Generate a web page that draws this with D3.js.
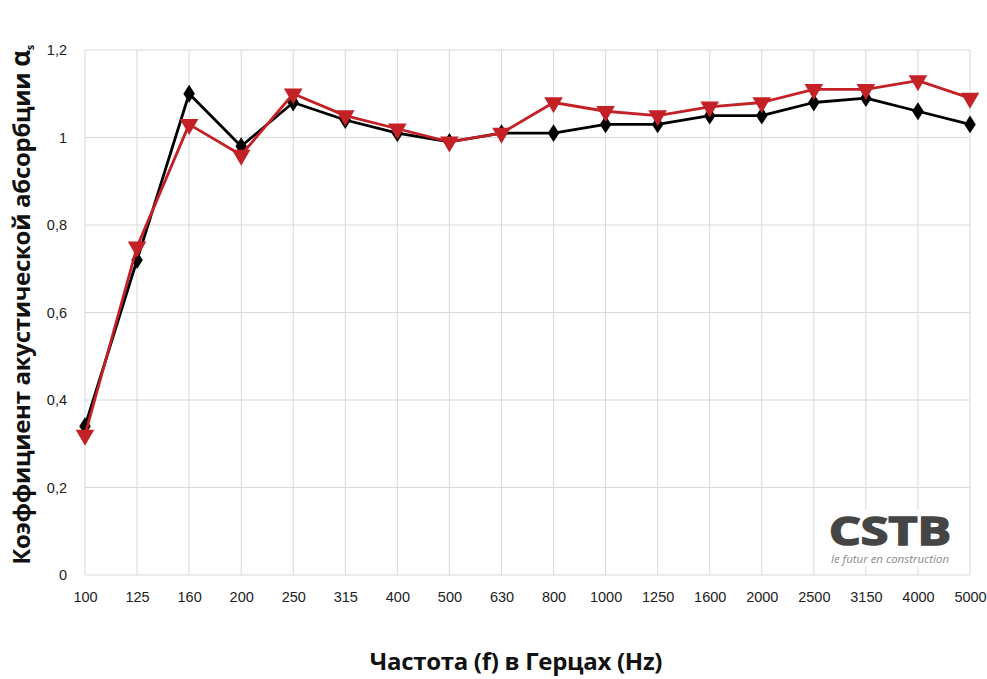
<!DOCTYPE html>
<html>
<head>
<meta charset="utf-8">
<script src="https://cdn.jsdelivr.net/npm/d3@7"></script>
<style>
  body { margin: 0; background: #fff; }
  svg { display: block; }
</style>
</head>
<body>
<svg id="chart"></svg>
<script>
// frequencies (Hz)
let categories = ['100', '125', '160', '200', '250', '315', '400', '500', '630', '800',
    '1000', '1250', '1600', '2000', '2500', '3150', '4000', '5000'];
// black diamonds
let seriesBlack = [0.34, 0.72, 1.10, 0.98, 1.08, 1.04, 1.01, 0.99, 1.01, 1.01,
    1.03, 1.03, 1.05, 1.05, 1.08, 1.09, 1.06, 1.03];
// red triangles
let seriesRed = [0.32, 0.75, 1.03, 0.96, 1.10, 1.05, 1.02, 0.99, 1.01, 1.08,
    1.06, 1.05, 1.07, 1.08, 1.11, 1.11, 1.13, 1.09];
let yTicks = [0, 0.2, 0.4, 0.6, 0.8, 1, 1.2];
let yTickLabels = ['0', '0,2', '0,4', '0,6', '0,8', '1', '1,2'];

let width = 987, height = 679;
let plotLeft = 85, plotRight = 970, plotTop = 50, plotBottom = 575;

let svg = d3.select('#chart').attr('width', width).attr('height', height);

let x = d3.scalePoint().domain(categories).range([plotLeft, plotRight]);
let y = d3.scaleLinear().domain([0, 1.2]).range([plotBottom, plotTop]);

// grid
svg.append('g')
    .selectAll('line')
    .data(yTicks)
    .join('line')
    .attr('x1', plotLeft).attr('x2', plotRight)
    .attr('y1', d => y(d)).attr('y2', d => y(d))
    .attr('stroke', '#d9d9d9').attr('stroke-width', 1);

svg.append('g')
    .selectAll('line')
    .data(categories)
    .join('line')
    .attr('x1', d => x(d)).attr('x2', d => x(d))
    .attr('y1', plotTop).attr('y2', plotBottom)
    .attr('stroke', '#d9d9d9').attr('stroke-width', 1);

// axes (labels only)
let xAxis = svg.append('g')
    .attr('transform', `translate(0,${plotBottom})`)
    .call(d3.axisBottom(x).tickSize(0).tickPadding(17));
let yAxis = svg.append('g')
    .attr('transform', `translate(${plotLeft},0)`)
    .call(d3.axisLeft(y).tickValues(yTicks).tickFormat((d, i) => yTickLabels[i]).tickSize(0).tickPadding(18));

[xAxis, yAxis].forEach(function (a) {
    a.select('.domain').remove();
    a.selectAll('text')
        .attr('font-family', 'Liberation Sans, Arial, sans-serif')
        .attr('font-size', 14.5)
        .attr('fill', '#222');
});

// CSTB logo
let logo = svg.append('g');
logo.append('rect')
    .attr('x', 824).attr('y', 510).attr('width', 132).attr('height', 56)
    .attr('fill', '#fff');
logo.append('text')
    .attr('x', 829).attr('y', 545)
    .attr('font-family', 'Open Sans, sans-serif')
    .attr('font-weight', 700)
    .attr('font-size', 39)
    .attr('textLength', 122)
    .attr('lengthAdjust', 'spacingAndGlyphs')
    .attr('fill', '#454545')
    .attr('stroke', '#454545')
    .attr('stroke-width', 1.6)
    .text('CSTB');
logo.append('text')
    .attr('x', 831).attr('y', 563)
    .attr('font-family', 'Open Sans, sans-serif')
    .attr('font-style', 'italic')
    .attr('font-size', 11.5)
    .attr('textLength', 118)
    .attr('lengthAdjust', 'spacingAndGlyphs')
    .attr('fill', '#8a8a8a')
    .text('le futur en construction');

// series
let series = [
    {values: seriesBlack, color: '#000000', symbol: d3.symbolDiamond, size: 115, rotate: 0},
    {values: seriesRed, color: '#c42127', symbol: d3.symbolTriangle, size: 150, rotate: 180}
];

let line = d3.line()
    .x((d, i) => x(categories[i]))
    .y(d => y(d));

series.forEach(function (s) {
    let g = svg.append('g');
    g.append('path')
        .datum(s.values)
        .attr('d', line)
        .attr('fill', 'none')
        .attr('stroke', s.color)
        .attr('stroke-width', 2.8)
        .attr('stroke-linejoin', 'round');
    g.selectAll('path.marker')
        .data(s.values)
        .join('path')
        .attr('class', 'marker')
        .attr('d', d3.symbol().type(s.symbol).size(s.size))
        .attr('transform', (d, i) => `translate(${x(categories[i])},${y(d)}) rotate(${s.rotate}) scale(1, ${s.symbol === d3.symbolDiamond ? 0.9 : 1})`)
        .attr('fill', s.color);
});

// axis titles
svg.append('text')
    .attr('x', 516).attr('y', 670)
    .attr('text-anchor', 'middle')
    .attr('font-family', 'Open Sans, sans-serif')
    .attr('font-weight', 700)
    .attr('font-size', 24)
    .attr('letter-spacing', -0.3)
    .attr('fill', '#111')
    .text('Частота (f) в Герцах (Hz)');

let yTitle = svg.append('text')
    .attr('transform', 'translate(30,305) rotate(-90)')
    .attr('text-anchor', 'middle')
    .attr('font-family', 'Open Sans, sans-serif')
    .attr('font-weight', 700)
    .attr('font-size', 24)
    .attr('letter-spacing', -0.3)
    .attr('fill', '#111');
yTitle.append('tspan').text('Коэффициент акустической абсорбции ');
yTitle.append('tspan').attr('font-size', 26).text('α');
yTitle.append('tspan').attr('font-size', 11).attr('dy', 4).text('s');
</script>
</body>
</html>
